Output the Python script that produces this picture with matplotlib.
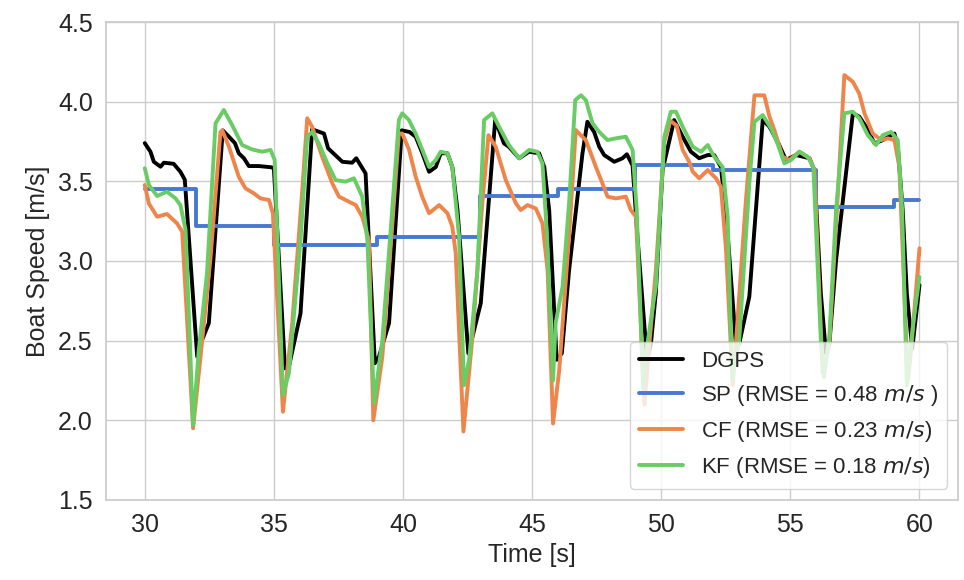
import matplotlib
matplotlib.use('Agg')
import matplotlib.pyplot as plt
import seaborn as sns

# DGPS reference speed
dgps_t = [30.0, 30.22, 30.35, 30.61, 30.74, 31.12, 31.38, 31.55, 32.03, 32.16, 32.48, 33.02, 33.26, 33.49,
          33.64, 33.84, 34.03, 34.42, 34.91, 35.0, 35.43, 35.58, 36.03, 36.48, 36.94, 37.1, 37.65, 38.03,
          38.19, 38.55, 38.91, 39.07, 39.46, 39.95, 40.25, 40.49, 40.75, 41.01, 41.27, 41.46, 41.72, 41.91,
          42.11, 42.53, 42.82, 43.01, 43.57, 43.91, 44.1, 44.5, 44.88, 45.27, 45.47, 45.66, 45.95, 46.15,
          46.43, 46.95, 47.14, 47.4, 47.6, 47.79, 48.18, 48.5, 48.67, 48.89, 49.08, 49.45, 49.6, 49.79,
          50.05, 50.5, 50.83, 51.15, 51.47, 51.8, 52.05, 52.31, 52.51, 52.9, 53.02, 53.41, 53.93, 54.19,
          54.57, 54.83, 55.22, 55.74, 55.93, 56.18, 56.38, 56.51, 56.77, 57.42, 57.67, 57.93, 58.26, 58.58,
          59.03, 59.16, 59.35, 59.51, 59.72, 60.0]
dgps_v = [3.74, 3.686, 3.623, 3.592, 3.617, 3.61, 3.56, 3.51, 2.40, 2.48, 2.61, 3.82, 3.78, 3.74,
          3.676, 3.645, 3.596, 3.596, 3.588, 3.58, 2.326, 2.336, 2.67, 3.827, 3.80, 3.707, 3.623, 3.617,
          3.645, 3.55, 2.358, 2.40, 2.61, 3.82, 3.81, 3.78, 3.676, 3.56, 3.59, 3.676, 3.676, 3.59,
          3.32, 2.42, 2.61, 2.734, 3.885, 3.738, 3.717, 3.645, 3.686, 3.676, 3.59, 3.32, 2.38, 2.42,
          2.94, 3.676, 3.874, 3.81, 3.717, 3.665, 3.623, 3.645, 3.67, 3.60, 3.15, 2.38, 2.48, 2.8,
          3.57, 3.885, 3.78, 3.686, 3.645, 3.665, 3.665, 3.59, 3.30, 2.46, 2.48, 2.776, 3.885, 3.843,
          3.728, 3.634, 3.665, 3.645, 3.57, 2.797, 2.42, 2.48, 3.006, 3.927, 3.906, 3.843, 3.738, 3.759,
          3.80, 3.717, 3.32, 2.797, 2.45, 2.85]

# stroke-average speed (step)
sp_t = [30, 32, 35, 39, 43, 46, 49, 52, 56, 59, 60]
sp_v = [3.45, 3.22, 3.10, 3.15, 3.41, 3.45, 3.60, 3.57, 3.34, 3.38, 3.38]

# complementary filter
cf_t = [30.0, 30.16, 30.48, 30.86, 31.25, 31.45, 31.87, 32.16, 32.55, 32.93, 33.0, 33.26, 33.64, 33.9,
        34.22, 34.48, 34.81, 34.96, 35.35, 35.71, 36.1, 36.29, 36.48, 36.87, 37.26, 37.52, 37.91, 38.17,
        38.42, 38.68, 38.85, 39.2, 39.59, 39.84, 39.97, 40.23, 40.49, 40.75, 41.01, 41.4, 41.72, 41.91,
        42.04, 42.34, 42.69, 43.07, 43.31, 43.59, 43.98, 44.37, 44.56, 44.82, 45.14, 45.4, 45.6, 45.81,
        46.05, 46.43, 46.69, 46.82, 47.08, 47.47, 47.72, 47.92, 48.24, 48.63, 48.82, 49.02, 49.35, 49.53,
        49.79, 50.12, 50.35, 50.6, 50.83, 51.09, 51.22, 51.47, 51.8, 52.12, 52.31, 52.51, 52.77, 52.9,
        53.28, 53.61, 53.99, 54.19, 54.38, 54.7, 54.96, 55.35, 55.74, 55.93, 56.25, 56.51, 56.84, 57.09,
        57.42, 57.67, 57.87, 58.19, 58.52, 58.77, 59.03, 59.22, 59.55, 59.68, 60.0]
cf_v = [3.477, 3.36, 3.278, 3.295, 3.236, 3.184, 1.95, 2.40, 3.027, 3.81, 3.82, 3.717, 3.529, 3.456,
        3.425, 3.393, 3.383, 3.30, 2.054, 2.61, 3.446, 3.896, 3.843, 3.655, 3.488, 3.404, 3.372, 3.351,
        3.278, 3.13, 2.0, 2.40, 3.236, 3.80, 3.80, 3.70, 3.53, 3.40, 3.30, 3.351, 3.30, 3.215,
        3.05, 1.93, 2.525, 3.362, 3.79, 3.717, 3.508, 3.362, 3.32, 3.351, 3.33, 3.236, 2.94, 1.98,
        2.316, 3.153, 3.822, 3.80, 3.759, 3.59, 3.488, 3.404, 3.393, 3.404, 3.32, 3.278, 2.10, 2.46,
        2.94, 3.75, 3.88, 3.85, 3.697, 3.62, 3.56, 3.519, 3.571, 3.519, 3.466, 3.069, 2.22, 2.504,
        3.383, 4.04, 4.04, 3.906, 3.822, 3.655, 3.634, 3.686, 3.645, 3.571, 2.3, 2.48, 3.425, 4.167,
        4.125, 4.05, 3.927, 3.80, 3.759, 3.77, 3.759, 3.59, 2.25, 2.45, 3.08]

# Kalman filter
kf_t = [30.0, 30.16, 30.48, 30.86, 31.19, 31.38, 31.58, 31.87, 32.09, 32.41, 32.74, 33.06, 33.38, 33.77,
        34.16, 34.55, 34.87, 35.03, 35.35, 35.58, 36.03, 36.29, 36.48, 36.74, 37.07, 37.39, 37.78, 38.1,
        38.42, 38.62, 38.88, 39.2, 39.59, 39.84, 39.97, 40.23, 40.49, 40.75, 41.01, 41.27, 41.46, 41.72,
        41.91, 42.17, 42.36, 42.56, 42.88, 43.14, 43.46, 43.72, 44.1, 44.5, 44.88, 45.2, 45.4, 45.58,
        45.81, 45.91, 46.18, 46.43, 46.67, 46.89, 47.08, 47.34, 47.6, 47.92, 48.24, 48.63, 48.89, 49.05,
        49.3, 49.41, 49.79, 50.12, 50.37, 50.57, 50.83, 51.22, 51.54, 51.8, 52.05, 52.38, 52.57, 52.75,
        53.02, 53.41, 53.61, 53.93, 54.25, 54.5, 54.77, 55.03, 55.35, 55.67, 55.89, 56.18, 56.3, 56.51,
        56.77, 57.09, 57.42, 57.67, 58.0, 58.32, 58.58, 58.9, 59.16, 59.33, 59.51, 59.74, 60.0]
kf_v = [3.582, 3.477, 3.408, 3.435, 3.393, 3.351, 3.195, 1.97, 2.44, 2.923, 3.864, 3.948, 3.854, 3.728,
        3.70, 3.686, 3.697, 3.634, 2.159, 2.295, 3.132, 3.78, 3.81, 3.738, 3.613, 3.508, 3.498, 3.519,
        3.404, 3.13, 2.107, 2.504, 3.34, 3.885, 3.927, 3.885, 3.80, 3.697, 3.59, 3.634, 3.686, 3.676,
        3.59, 3.153, 2.22, 2.38, 2.94, 3.885, 3.927, 3.843, 3.728, 3.645, 3.697, 3.686, 3.613, 3.15,
        2.25, 2.61, 2.84, 3.362, 4.01, 4.04, 4.01, 3.864, 3.81, 3.759, 3.77, 3.78, 3.697, 3.32,
        2.2, 2.42, 2.84, 3.78, 3.937, 3.937, 3.843, 3.717, 3.686, 3.728, 3.655, 3.59, 3.278, 2.25,
        2.504, 3.488, 3.874, 3.916, 3.833, 3.738, 3.613, 3.634, 3.686, 3.655, 3.59, 2.504, 2.27, 2.525,
        3.32, 3.927, 3.937, 3.896, 3.79, 3.728, 3.79, 3.81, 3.759, 3.32, 2.22, 2.587, 2.90]

sns.set_theme(style='whitegrid', palette='muted')
plt.rcParams['font.family'] = ['Liberation Sans', 'DejaVu Sans']
colors = sns.color_palette('muted')

fig, ax = plt.subplots(figsize=(9.64, 5.8), dpi=100)
fig.subplots_adjust(left=0.110, right=0.994, top=0.962, bottom=0.138)

ax.plot(dgps_t, dgps_v, color='black', lw=2.8, label='DGPS')
ax.plot(sp_t, sp_v, color=colors[0], lw=2.8, drawstyle='steps-post', label=r'SP (RMSE = 0.48 $m/s$ )')
ax.plot(cf_t, cf_v, color=colors[1], lw=2.8, label=r'CF (RMSE = 0.23 $m/s$)')
ax.plot(kf_t, kf_v, color=colors[2], lw=2.8, label=r'KF (RMSE = 0.18 $m/s$)')

ax.set_xlim(28.5, 61.5)
ax.set_ylim(1.5, 4.5)
ax.set_xticks([30, 35, 40, 45, 50, 55, 60])
ax.set_yticks([1.5, 2.0, 2.5, 3.0, 3.5, 4.0, 4.5])
ax.set_xlabel('Time [s]', fontsize=18, labelpad=4)
ax.set_ylabel('Boat Speed [m/s]', fontsize=18, labelpad=6)
ax.tick_params(labelsize=18)
ax.legend(loc='lower right', fontsize=16)

fig.savefig('out.png', dpi=100)
